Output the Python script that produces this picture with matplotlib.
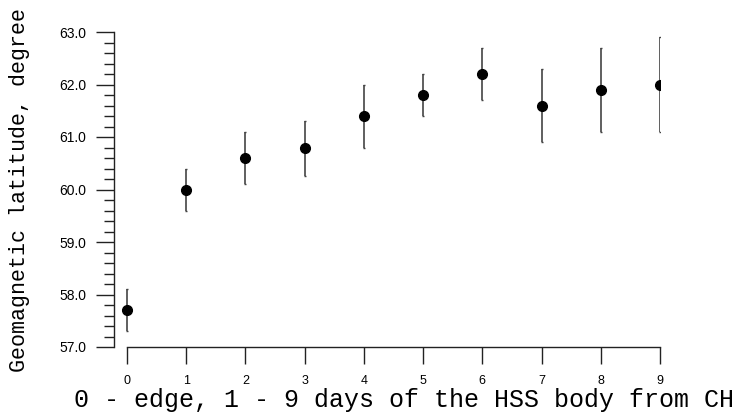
import numpy as np
import matplotlib
matplotlib.use("Agg")
import matplotlib.pyplot as plt
from matplotlib.ticker import MultipleLocator, FormatStrFormatter

# days from the coronal hole edge
days = [0, 1, 2, 3, 4, 5, 6, 7, 8, 9]
lat_mean = [57.7, 60.0, 60.6, 60.8, 61.4, 61.8, 62.2, 61.6, 61.9, 62.0]
lat_low = [57.3, 59.6, 60.1, 60.25, 60.8, 61.4, 61.7, 60.9, 61.1, 61.1]
lat_high = [58.1, 60.4, 61.1, 61.3, 62.0, 62.2, 62.7, 62.3, 62.7, 62.9]

x = np.array(days)
y = np.array(lat_mean)
err = [y - np.array(lat_low), np.array(lat_high) - y]

fig = plt.figure(figsize=(7.38, 4.12), dpi=100)
ax = fig.add_axes([114 / 738, 65 / 412, 546 / 738, 315 / 412])

ax.errorbar(x, y, yerr=err, fmt='o', color='black', ms=7,
            ecolor='#444444', elinewidth=1.2, capsize=1, capthick=1)

ax.set_xlim(-0.22, 9)
ax.set_ylim(57, 63)

for s in ['top', 'right']:
    ax.spines[s].set_visible(False)
ax.spines['bottom'].set_bounds(0, 9)
for s in ['left', 'bottom']:
    ax.spines[s].set_linewidth(1.0)
    ax.spines[s].set_color('#222222')

ax.xaxis.set_major_locator(MultipleLocator(1))
ax.yaxis.set_major_locator(MultipleLocator(1))
ax.yaxis.set_minor_locator(MultipleLocator(0.2))
ax.yaxis.set_major_formatter(FormatStrFormatter('%.1f'))

ax.tick_params(axis='y', which='major', direction='out', length=13, width=1,
               color='#222222', labelsize=10, pad=7)
ax.tick_params(axis='y', which='minor', direction='out', length=7, width=1,
               color='#222222')
ax.tick_params(axis='x', which='major', direction='out', length=12, width=1,
               color='#222222', labelsize=9, pad=8)
for lab in ax.get_xticklabels() + ax.get_yticklabels():
    lab.set_family('Liberation Sans')

fig.text(404 / 738, 1 - 400 / 412, '0 - edge, 1 - 9 days of the HSS body from CH',
         family='Liberation Mono', fontsize=18, ha='center', va='center')
fig.text(20 / 738, 1 - 190 / 412, 'Geomagnetic latitude, degree',
         family='Liberation Mono', fontsize=15.6, ha='center', va='center',
         rotation=90)

fig.savefig('out.png', dpi=100)
